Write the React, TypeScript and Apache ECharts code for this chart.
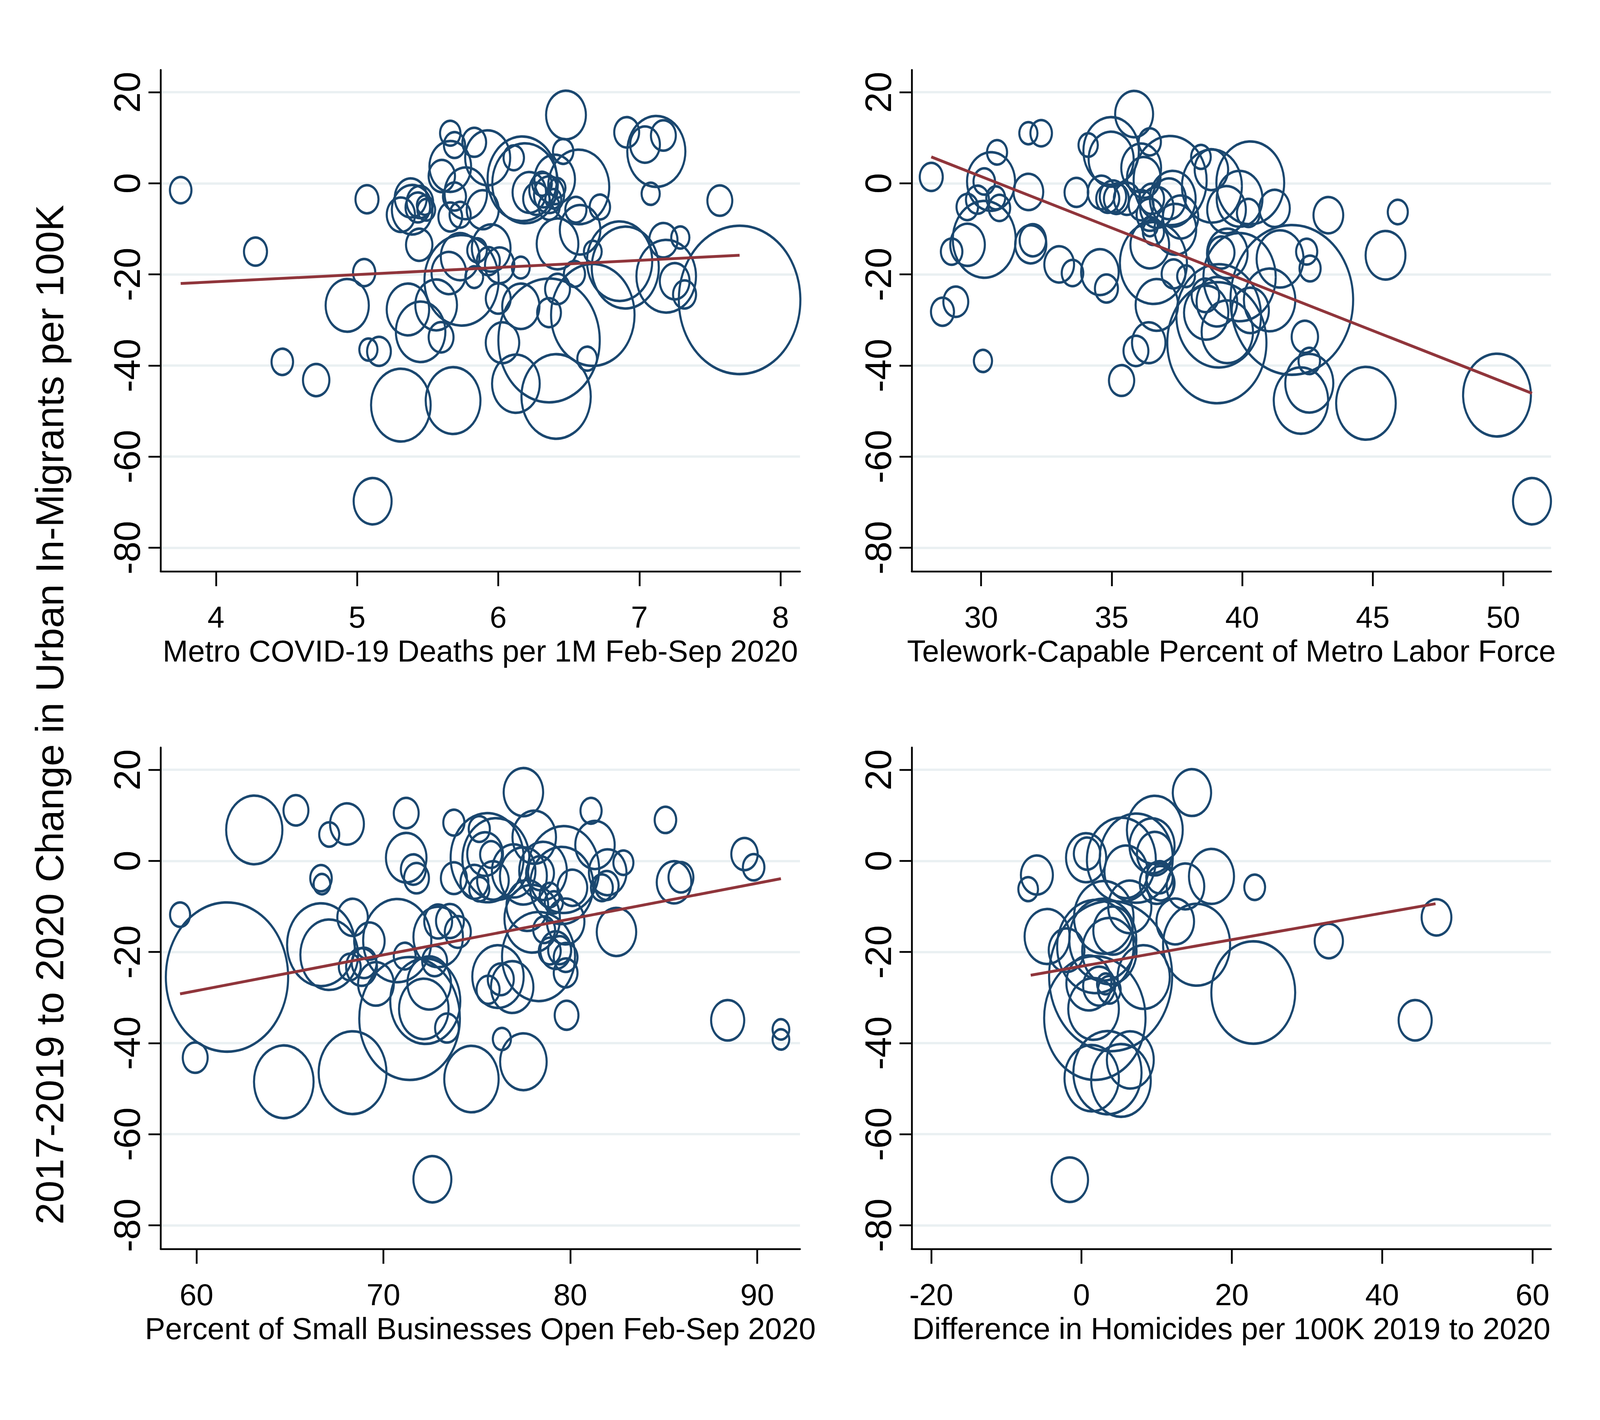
import { useEffect, useRef } from "react";
import * as echarts from "echarts";

// [x, y, bubble diameter in y-axis units]
const covidPts = [
  [3.75, -1.5, 6.2], [4.28, -15.0, 6.6], [4.47, -39.2, 6.2], [4.71, -43.2, 7.5],
  [5.07, -3.5, 6.6], [5.05, -19.6, 6.4], [4.93, -26.8, 12.0], [5.08, -36.5, 5.3],
  [5.155, -36.9, 6.8], [5.11, -69.8, 10.6], [5.31, -48.7, 16.4], [5.68, -47.7, 15.1],
  [5.36, -27.7, 11.8], [5.45, -32.6, 13.7], [5.56, -26.7, 11.6], [5.595, -33.8, 7.1],
  [5.44, -13.5, 7.5], [5.31, -6.9, 8.0], [5.38, -3.2, 9.0], [5.39, -5.8, 11.3],
  [5.445, -4.1, 7.5], [5.43, -5.3, 7.0], [5.48, -4.8, 4.7], [5.49, -5.8, 5.2],
  [5.66, 11.0, 5.9], [5.69, 8.4, 6.1], [5.83, 9.0, 6.8], [5.925, 5.6, 12.5],
  [5.66, 3.7, 11.6], [5.6, 1.6, 7.5], [6.11, 5.6, 5.9], [6.17, 1.0, 19.0],
  [6.19, 0.0, 18.0], [6.46, 7.0, 5.9], [6.48, 15.0, 11.1], [6.91, 11.2, 7.1],
  [7.04, 8.5, 8.4], [7.17, 10.5, 7.1], [7.12, 7.0, 16.0], [7.08, -2.3, 5.3],
  [6.57, -0.8, 16.8], [6.4, 0.85, 11.3], [6.32, -1.5, 8.0], [6.36, -2.5, 8.5],
  [6.27, -3.4, 7.5], [6.22, -2.0, 9.4], [6.31, -0.1, 5.7], [6.36, -5.2, 6.1],
  [6.39, -3.4, 4.7], [6.42, -1.0, 4.7], [6.55, -5.8, 6.1], [6.72, -5.2, 5.9],
  [6.58, -10.2, 11.3], [6.42, -13.3, 11.6], [6.86, -17.1, 17.9], [6.9, -18.5, 18.4],
  [6.67, -15.0, 5.2], [6.54, -19.9, 6.1], [6.42, -23.2, 7.1], [6.36, -28.4, 6.8],
  [6.67, -28.9, 22.8], [6.36, -34.5, 27.6], [6.63, -38.5, 5.7], [6.41, -46.8, 19.0],
  [6.125, -44.0, 13.2], [6.03, -35.0, 9.4], [6.16, -27.0, 10.4], [6.0, -25.3, 7.1],
  [5.95, -14.2, 10.8], [5.85, -14.7, 5.7], [5.93, -17.1, 6.6], [6.01, -18.0, 8.3],
  [6.16, -18.5, 5.2], [5.83, -20.6, 5.2], [5.74, -21.3, 20.3], [5.65, -19.7, 9.7],
  [5.73, -16.1, 10.8], [5.69, -2.9, 6.6], [5.66, -7.4, 6.8], [5.73, -6.9, 6.1],
  [5.77, -2.2, 11.8], [5.89, -5.8, 9.0], [7.17, -12.5, 8.0], [7.29, -11.9, 5.3],
  [7.19, -20.4, 16.4], [7.25, -21.5, 8.4], [7.32, -24.4, 6.6], [7.57, -3.8, 7.1],
  [7.71, -25.6, 33.0],
];

const teleworkPts = [
  [28.09, 1.4, 6.6], [28.52, -28.2, 6.6], [29.03, -26.0, 7.1], [28.87, -15.0, 6.2],
  [29.48, -13.5, 9.7], [30.12, -12.3, 17.3], [30.38, 0.4, 13.3], [30.12, 0.4, 6.2],
  [29.47, -5.2, 6.2], [29.86, -3.6, 6.6], [30.7, -5.4, 6.2], [30.56, -3.2, 5.5],
  [30.61, 6.8, 5.8], [31.81, 11.0, 5.3], [32.3, 11.0, 6.2], [31.81, -1.9, 8.4],
  [31.9, -13.4, 8.8], [31.98, -12.5, 7.5], [32.99, -17.8, 8.4], [33.5, -19.7, 6.2],
  [34.55, -19.5, 10.5], [34.8, -23.1, 6.6], [33.65, -2.0, 6.8], [34.1, 8.4, 5.6],
  [30.07, -39.0, 5.3], [35.38, -43.3, 7.2], [35.93, -36.8, 7.1], [36.42, -35.0, 9.4],
  [43.3, -7.0, 8.4], [45.96, -6.3, 5.8], [45.49, -15.8, 11.1], [44.74, -48.3, 16.4],
  [49.76, -46.5, 18.6], [51.1, -69.8, 10.6], [42.25, -47.7, 15.0], [42.57, -43.9, 13.3],
  [42.57, -39.0, 6.2], [42.4, -33.7, 7.5], [42.47, -15.0, 6.1], [42.6, -18.7, 6.1],
  [41.24, -5.5, 8.6], [35.86, 15.2, 10.6], [34.98, 7.1, 15.3], [34.98, 5.3, 12.5],
  [36.46, 9.1, 6.4], [36.13, 3.4, 11.1], [36.23, 1.3, 9.4], [37.24, 0.6, 20.0],
  [38.42, 5.8, 5.7], [38.82, 3.0, 9.4], [38.84, -0.6, 16.5], [40.31, 0.1, 18.6],
  [39.9, -3.4, 12.7], [39.4, -5.8, 10.8], [40.24, -6.5, 6.6], [34.61, -2.0, 7.8],
  [34.85, -3.4, 6.6], [35.18, -3.4, 7.1], [35.05, -2.9, 7.5], [35.59, -3.4, 7.5],
  [36.13, -4.8, 7.1], [36.53, -3.4, 7.1], [36.73, -5.3, 9.4], [37.2, -3.4, 9.4],
  [37.34, -3.4, 12.7], [37.64, -7.4, 9.9], [36.46, -6.9, 7.5], [36.46, -9.5, 4.7],
  [36.6, -10.7, 6.1], [36.46, -13.5, 10.8], [36.6, -17.5, 18.4], [37.37, -19.9, 6.8],
  [37.44, -10.1, 11.6], [36.73, -26.7, 11.8], [39.03, -35.0, 27.0], [39.1, -29.1, 23.1],
  [39.43, -32.6, 14.2], [39.03, -26.0, 11.3], [39.2, -15.2, 7.5], [39.43, -15.4, 11.3],
  [39.9, -20.6, 19.8], [41.9, -25.6, 33.3], [41.45, -16.6, 13.0], [41.05, -25.6, 14.2],
  [40.31, -27.9, 10.4], [38.59, -24.6, 7.8], [37.85, -20.4, 5.2], [38.62, -28.4, 12.3],
];

const smallBizPts = [
  [59.12, -11.8, 5.8], [61.63, -25.5, 33.2], [59.93, -43.2, 7.1], [63.09, 6.8, 15.5],
  [65.32, 11.1, 7.1], [64.67, -48.5, 16.4], [66.66, -3.8, 6.2], [66.71, -5.1, 4.9],
  [67.1, 5.8, 5.8], [68.05, 8.1, 9.5], [66.66, -18.4, 18.6], [67.1, -20.6, 15.9],
  [68.35, -46.5, 18.6], [68.35, -12.4, 8.6], [69.25, -17.6, 8.6], [69.6, -27.0, 10.0],
  [68.83, -23.3, 8.7], [68.2, -23.3, 6.3], [68.97, -22.4, 7.1], [71.22, 10.5, 7.1],
  [71.22, 0.7, 11.3], [71.6, -1.9, 7.1], [71.77, -3.8, 7.1], [70.74, -17.5, 18.7],
  [71.4, -34.6, 27.4], [72.16, -32.5, 13.7], [72.24, -30.8, 19.2], [72.45, -26.8, 12.1],
  [73.4, -36.7, 6.8], [72.93, -16.7, 13.7], [72.93, -13.3, 7.9], [73.56, -13.2, 7.9],
  [73.98, -15.6, 7.4], [71.14, -20.9, 6.3], [72.74, -22.0, 7.1], [72.62, -69.9, 10.6],
  [73.77, 8.4, 6.1], [73.77, -3.8, 7.4], [74.87, -4.6, 7.9], [75.13, -6.2, 5.8],
  [75.86, -4.3, 8.9], [74.71, -47.9, 15.0], [75.55, 0.7, 20.0], [75.13, 7.0, 6.1],
  [75.44, 1.5, 10.0], [75.76, 1.4, 6.3], [76.02, 0.4, 18.4], [77.49, 15.1, 11.0],
  [78.07, 5.2, 12.1], [76.97, -2.2, 12.1], [77.49, -3.3, 13.0], [78.38, -2.7, 7.9],
  [78.54, -2.2, 13.2], [79.64, -1.9, 19.5], [79.54, -5.4, 17.4], [80.11, -5.9, 8.4],
  [78.9, -7.5, 5.8], [79.12, -9.1, 5.3], [77.7, -9.8, 11.6], [77.96, -12.7, 15.3],
  [79.75, -13.3, 10.5], [78.3, -21.0, 20.0], [78.6, -15.1, 6.3], [78.9, -19.8, 6.3],
  [79.43, -19.6, 6.6], [79.75, -21.2, 6.8], [79.75, -24.6, 6.8], [79.22, -19.6, 8.7],
  [79.8, -33.9, 6.8], [76.13, -25.4, 14.2], [76.89, -27.7, 11.8], [76.28, -26.0, 7.4],
  [75.6, -28.3, 6.6], [76.34, -39.1, 5.3], [77.49, -44.1, 12.9], [81.11, 11.0, 6.1],
  [81.32, 3.5, 11.0], [82.84, -0.4, 5.8], [82.0, -2.5, 10.5], [81.95, -5.4, 6.8],
  [81.69, -5.9, 6.3], [82.47, -15.6, 11.0], [85.09, 9.0, 6.2], [85.55, -4.7, 9.7],
  [85.92, -3.6, 7.1], [88.42, -35.0, 9.3], [89.32, 1.5, 7.5], [89.81, -1.4, 6.2],
  [91.27, -37.0, 4.9], [91.27, -39.2, 4.9],
];

const homicidePts = [
  [14.69, 15.0, 10.7], [9.75, 6.8, 15.4], [5.3, 0.25, 18.9], [7.28, 0.6, 20.0],
  [9.38, 3.3, 12.5], [9.75, 1.6, 10.0], [0.61, 0.7, 11.2], [0.73, 1.6, 7.5],
  [-5.94, -3.1, 9.0], [-7.1, -6.2, 5.7], [5.92, -2.4, 12.0], [10.0, -4.9, 9.5],
  [10.37, -3.6, 7.5], [10.5, -4.9, 8.0], [13.83, -5.6, 10.5], [17.29, -3.4, 12.5],
  [23.04, -5.8, 6.0], [-4.58, -16.6, 12.5], [6.42, -10.1, 12.0], [12.47, -13.3, 10.5],
  [15.31, -18.4, 18.4], [22.85, -28.9, 22.9], [2.96, -12.4, 16.4], [4.19, -15.3, 11.0],
  [2.83, -17.3, 18.4], [1.84, -18.8, 20.9], [3.7, -19.8, 15.0], [-1.99, -19.6, 10.0],
  [8.27, -25.5, 14.4], [3.87, -25.3, 33.4], [1.77, -34.5, 27.6], [1.6, -32.5, 14.0],
  [0.98, -26.8, 12.5], [2.34, -27.5, 9.0], [3.7, -28.3, 6.5], [3.2, -27.0, 5.0],
  [1.35, -47.7, 15.0], [3.45, -46.5, 18.7], [5.25, -48.2, 16.4], [6.49, -43.7, 13.0],
  [32.9, -17.6, 8.0], [47.23, -12.4, 8.4], [44.39, -35.0, 9.3], [-1.56, -70.0, 10.2],
];

// fitted lines (endpoints)
const covidFit = [[3.75, -22.0], [7.71, -15.8]];
const teleworkFit = [[28.09, 5.8], [51.1, -46.1]];
const smallBizFit = [[59.12, -29.2], [91.27, -3.9]];
const homicideFit = [[-6.76, -25.1], [47.1, -9.4]];

const yTicks = [-80, -60, -40, -20, 0, 20];
const covidTicks = [4, 5, 6, 7, 8];
const teleworkTicks = [30, 35, 40, 45, 50];
const smallBizTicks = [60, 70, 80, 90];
const homicideTicks = [-20, 0, 20, 40, 60];

const xTitles = [
  "Metro COVID-19 Deaths per 1M Feb-Sep 2020",
  "Telework-Capable Percent of Metro Labor Force",
  "Percent of Small Businesses Open Feb-Sep 2020",
  "Difference in Homicides per 100K 2019 to 2020",
];
const yTitle = "2017-2019 to 2020 Change in Urban In-Migrants per 100K";

const FONT = '"Liberation Sans", Arial, Helvetica, sans-serif';
const NAVY = "#1a476f";
const MAROON = "#90353b";
const GRID_COLOR = "#eaf0f2";

// layout measured on the 5000 x 3636 reference
const REF_W = 5000;
const REF_H = 3636;
const Y_MIN = -85.2;
const Y_MAX = 24.9;
const PLOT_W = 1998;
const PLOT_H = 1284;
const PX_PER_Y = PLOT_H / (Y_MAX - Y_MIN);

const panels = [
  { pts: covidPts, fit: covidFit, ticks: covidTicks, range: [3.608, 8.138], left: 502, top: 179 },
  { pts: teleworkPts, fit: teleworkFit, ticks: teleworkTicks, range: [27.34, 51.83], left: 2849, top: 179 },
  { pts: smallBizPts, fit: smallBizFit, ticks: smallBizTicks, range: [58.08, 92.29], left: 502, top: 1914 },
  { pts: homicidePts, fit: homicideFit, ticks: homicideTicks, range: [-22.6, 62.47], left: 2849, top: 1914 },
];

export default function App() {
  const ref = useRef<HTMLDivElement | null>(null);

  useEffect(() => {
    document.body.style.margin = "0";
    document.body.style.overflow = "hidden";
    const el = ref.current;
    if (!el) return;

    // map the reference layout onto the CSS viewport we actually get
    const vw = document.documentElement.clientWidth || window.innerWidth;
    const vh = window.innerHeight;
    const sx = vw / REF_W;
    const sy = vh / REF_H;
    const sm = (sx + sy) / 2;
    el.style.width = `${vw}px`;
    el.style.height = `${vh}px`;

    const fx = 95 * sx; // horizontal text
    const fy = 95 * sy; // rotated text
    const hText = { fontSize: fx, color: "#000", fontFamily: FONT };
    const vText = { fontSize: fy, color: "#000", fontFamily: FONT };
    const axisLine = { show: true, onZero: false, lineStyle: { color: "#000", width: 5 * sm } };
    const tickLine = { color: "#000", width: 5 * sm };

    const chart = echarts.init(el, undefined, { renderer: "svg" });

    const option: echarts.EChartsOption = {
      animation: false,
      backgroundColor: "#fff",
      grid: panels.map((p) => ({
        left: p.left * sx,
        top: p.top * sy,
        width: PLOT_W * sx,
        height: PLOT_H * sy,
      })),
      xAxis: panels.map((p, i) => ({
        type: "value",
        gridIndex: i,
        min: p.range[0],
        max: p.range[1],
        name: xTitles[i],
        nameLocation: "middle",
        nameGap: 203 * sy - 0.49 * fx,
        nameTextStyle: hText,
        axisLine,
        axisTick: { show: true, length: 38 * sy, lineStyle: tickLine, customValues: p.ticks },
        axisLabel: { ...hText, margin: 116 * sy - 0.49 * fx, customValues: p.ticks },
        splitLine: { show: false },
      })),
      yAxis: panels.map((p, i) => ({
        type: "value",
        gridIndex: i,
        min: Y_MIN,
        max: Y_MAX,
        axisLine,
        axisTick: { show: true, length: 38 * sx, lineStyle: tickLine, customValues: yTicks },
        axisLabel: { ...vText, rotate: 90, margin: 106 * sx - 0.51 * fy, customValues: yTicks },
        splitLine: { show: true, lineStyle: { color: GRID_COLOR, width: 6 * sy } },
      })),
      series: panels.flatMap((p, i) => [
        {
          type: "scatter",
          xAxisIndex: i,
          yAxisIndex: i,
          data: p.pts,
          symbol: "circle",
          symbolSize: (v: number[]) => [(v[2] * PX_PER_Y - 5) * sx, (v[2] * PX_PER_Y - 5) * sy],
          clip: false,
          silent: true,
          itemStyle: { color: "rgba(0,0,0,0)", borderColor: NAVY, borderWidth: 6.5 * sm, opacity: 1 },
        },
        {
          type: "line",
          xAxisIndex: i,
          yAxisIndex: i,
          data: p.fit,
          showSymbol: false,
          silent: true,
          lineStyle: { color: MAROON, width: 8 * sm },
        },
      ]) as any,
      graphic: [
        {
          type: "text",
          x: 155 * sx,
          y: 1830 * sy,
          rotation: Math.PI / 2,
          style: {
            text: yTitle,
            font: `${101 * sy}px ${FONT}`,
            fill: "#000",
            textAlign: "center",
            textVerticalAlign: "middle",
          },
        },
      ],
    };

    chart.setOption(option);
    return () => chart.dispose();
  }, []);

  return <div ref={ref} style={{ width: REF_W, height: REF_H, background: "#fff" }} />;
}
